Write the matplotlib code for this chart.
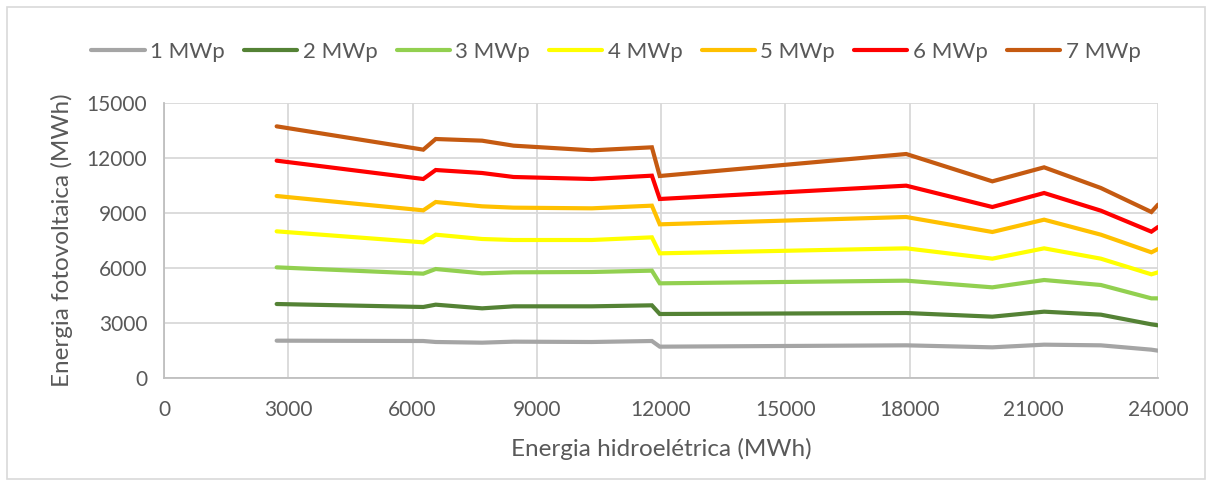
import matplotlib
matplotlib.use("Agg")
import matplotlib.pyplot as plt
from matplotlib.patches import Rectangle

# hydro energy (MWh) shared by every PV size
hidro = [2720, 6260, 6560, 7680, 8440, 10330, 11780, 11970, 17920, 20000, 21250, 22620, 23840, 24000]

pv_1 = [2036, 2018, 1964, 1927, 1982, 1964, 2018, 1709, 1782, 1673, 1818, 1782, 1545, 1491]
pv_2 = [4036, 3873, 4000, 3800, 3909, 3909, 3964, 3491, 3545, 3345, 3618, 3455, 2927, 2873]
pv_3 = [6036, 5691, 5945, 5709, 5764, 5782, 5855, 5164, 5309, 4945, 5345, 5073, 4345, 4345]
pv_4 = [8000, 7400, 7818, 7582, 7527, 7527, 7673, 6800, 7073, 6509, 7073, 6509, 5655, 5764]
pv_5 = [9927, 9145, 9600, 9364, 9291, 9255, 9400, 8382, 8782, 7964, 8636, 7818, 6855, 7036]
pv_6 = [11855, 10855, 11345, 11182, 10964, 10855, 11036, 9764, 10491, 9327, 10091, 9127, 7982, 8236]
pv_7 = [13727, 12455, 13036, 12945, 12673, 12418, 12583, 11018, 12218, 10727, 11491, 10364, 9055, 9455]

series_labels = ["1 MWp", "2 MWp", "3 MWp", "4 MWp", "5 MWp", "6 MWp", "7 MWp"]
series_colors = ["#A5A5A5", "#548235", "#92D050", "#FFFF00", "#FFC000", "#FF0000", "#C55A11"]

x_ticks = [0, 3000, 6000, 9000, 12000, 15000, 18000, 21000, 24000]
y_ticks = [0, 3000, 6000, 9000, 12000, 15000]

plt.rcParams["font.family"] = ["Lato", "DejaVu Sans"]

fig = plt.figure(figsize=(12.13, 4.87), dpi=100)
ax = fig.add_axes([164 / 1213, 1 - 378 / 487, (1158 - 164) / 1213, (378 - 103) / 487])

for ys, lab, col in zip([pv_1, pv_2, pv_3, pv_4, pv_5, pv_6, pv_7], series_labels, series_colors):
    ax.plot(hidro, ys, color=col, lw=3, label=lab, solid_capstyle="round",
            solid_joinstyle="miter")

ax.set_xlim(0, 24000)
ax.set_ylim(0, 15000)
ax.set_xticks(x_ticks)
ax.set_yticks(y_ticks)
ax.grid(True, color="#D9D9D9", lw=1.3)
ax.set_axisbelow(True)
for side in ["top", "right"]:
    ax.spines[side].set_visible(False)
for side in ["left", "bottom"]:
    ax.spines[side].set_color("#BFBFBF")
    ax.spines[side].set_linewidth(1.3)
ax.tick_params(length=0, labelsize=15, labelcolor="#595959")
ax.tick_params(axis="x", pad=16)
ax.tick_params(axis="y", pad=12)

ax.set_xlabel("Energia hidroelétrica (MWh)", fontsize=17.5, color="#595959", labelpad=13)
ax.set_ylabel("Energia fotovoltaica (MWh)", fontsize=17.5, color="#595959", labelpad=10)

fig.legend(loc="center", bbox_to_anchor=(616 / 1213, 1 - 52 / 487), ncol=7,
           frameon=False, fontsize=16, handlelength=2.4, handletextpad=0.25,
           columnspacing=0.85, labelcolor="#595959")

# chart area border
fig.patches.append(Rectangle((7 / 1213, 8 / 487), 1198 / 1213, 472 / 487,
                             transform=fig.transFigure, fill=False,
                             edgecolor="#D9D9D9", lw=1.2))

fig.savefig("out.png", dpi=100)
